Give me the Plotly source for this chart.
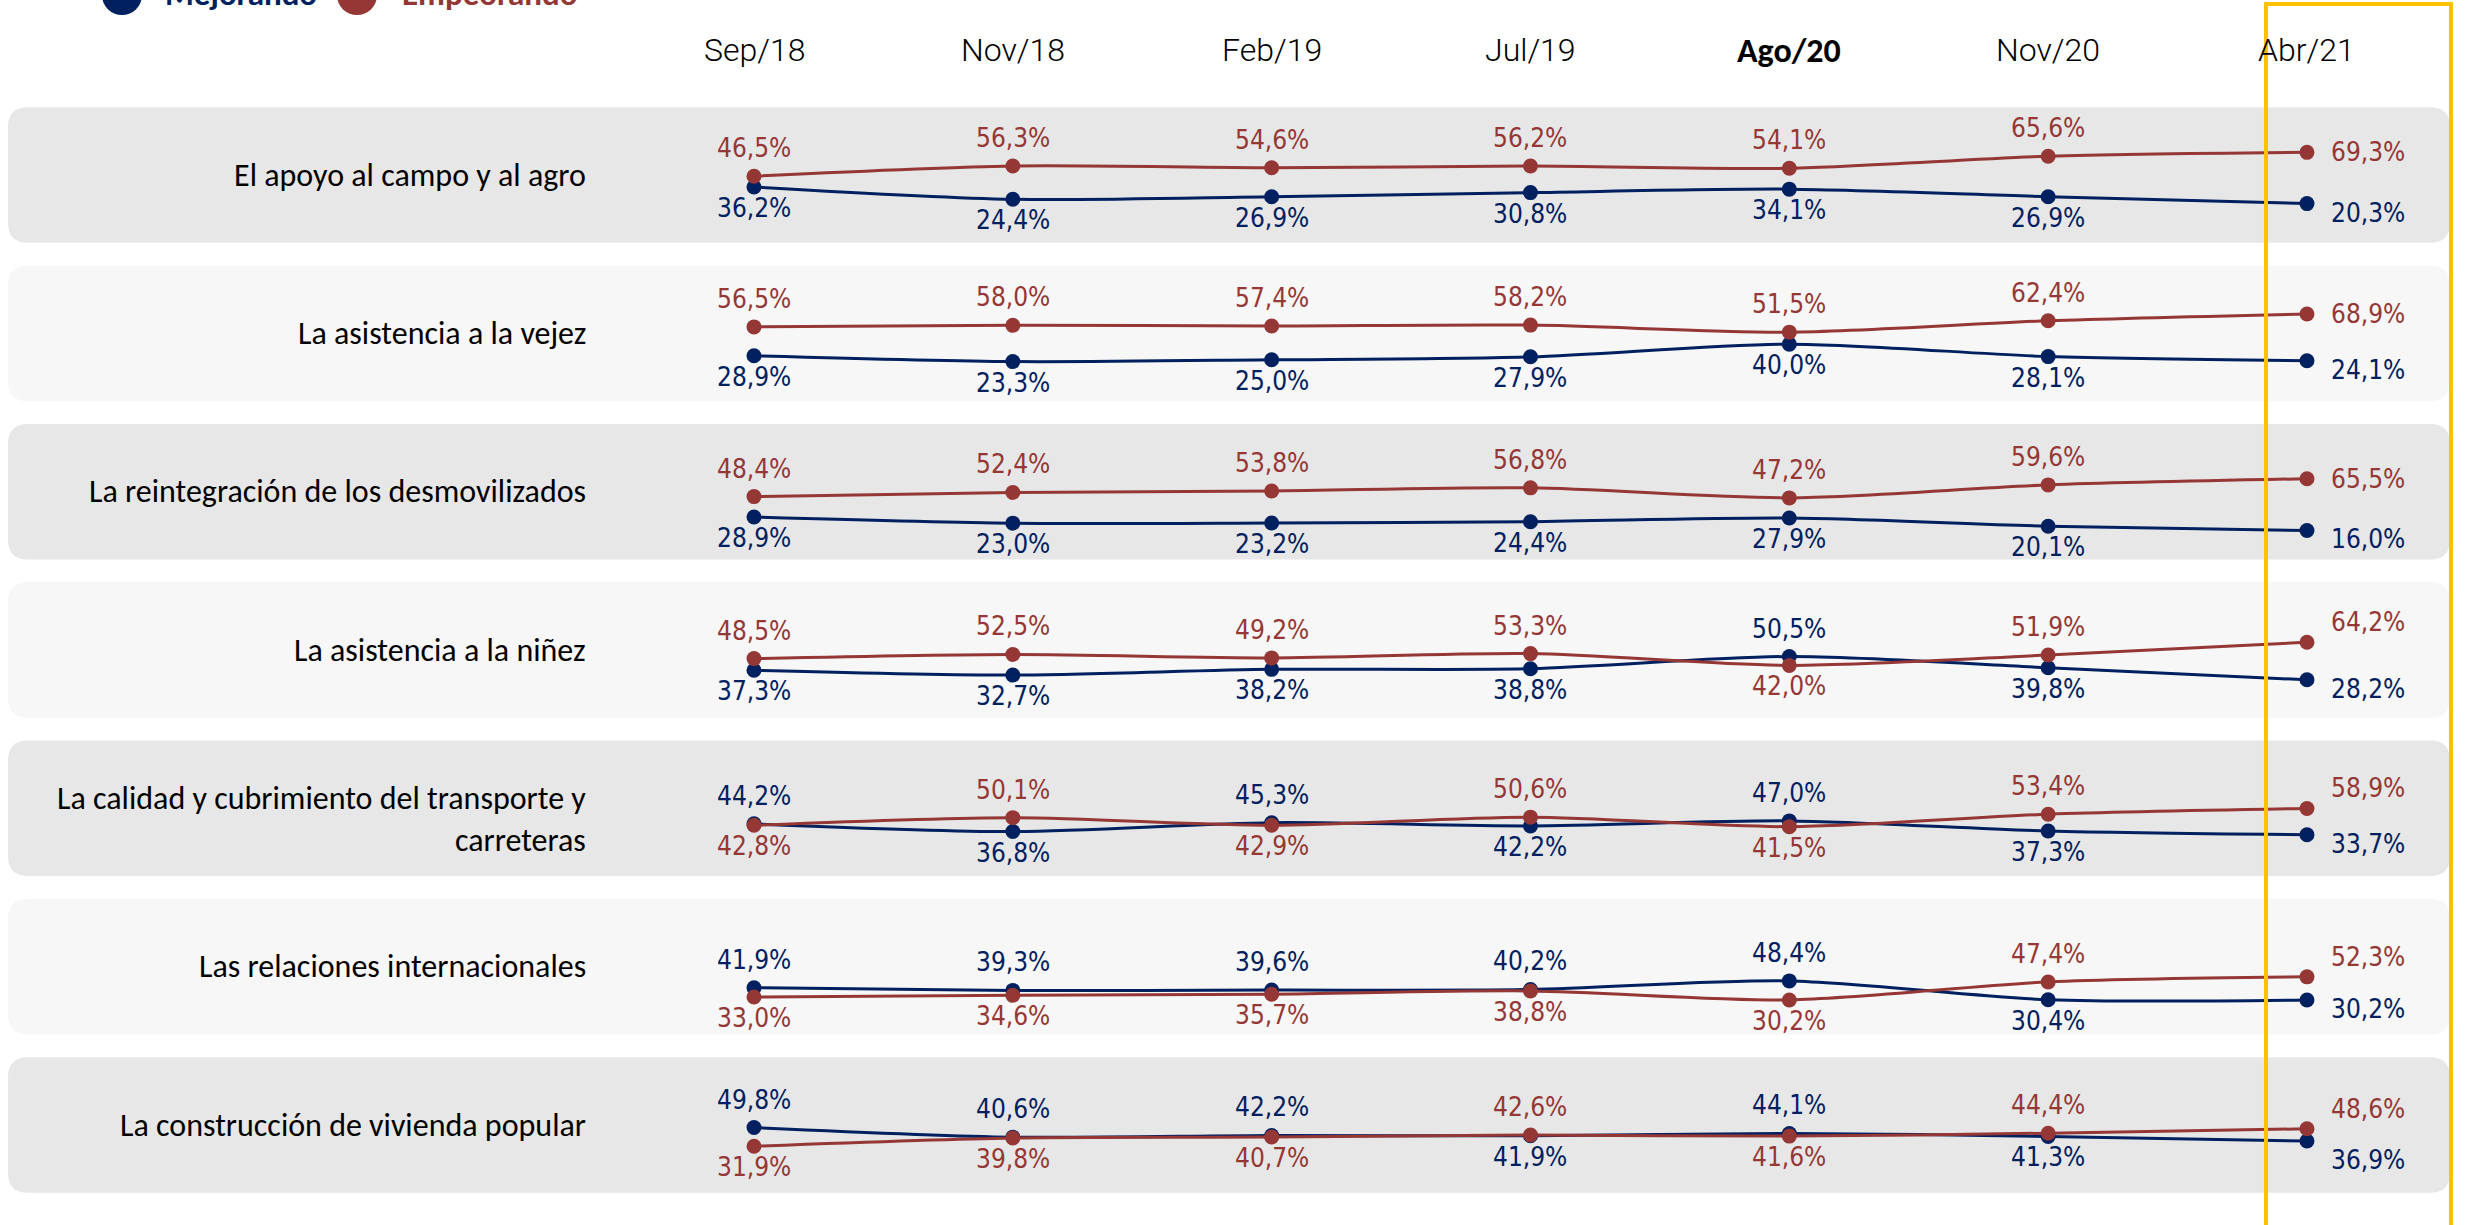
import plotly.graph_objects as go

periods = ['Sep/18', 'Nov/18', 'Feb/19', 'Jul/19', 'Ago/20', 'Nov/20', 'Abr/21']
bold_period = 'Ago/20'

items = [
    'El apoyo al campo y al agro',
    'La asistencia a la vejez',
    'La reintegración de los desmovilizados',
    'La asistencia a la niñez',
    'La calidad y cubrimiento del transporte y<br>carreteras',
    'Las relaciones internacionales',
    'La construcción de vivienda popular',
]

mejorando = [
    [36.2, 24.4, 26.9, 30.8, 34.1, 26.9, 20.3],
    [28.9, 23.3, 25.0, 27.9, 40.0, 28.1, 24.1],
    [28.9, 23.0, 23.2, 24.4, 27.9, 20.1, 16.0],
    [37.3, 32.7, 38.2, 38.8, 50.5, 39.8, 28.2],
    [44.2, 36.8, 45.3, 42.2, 47.0, 37.3, 33.7],
    [41.9, 39.3, 39.6, 40.2, 48.4, 30.4, 30.2],
    [49.8, 40.6, 42.2, 41.9, 44.1, 41.3, 36.9],
]

empeorando = [
    [46.5, 56.3, 54.6, 56.2, 54.1, 65.6, 69.3],
    [56.5, 58.0, 57.4, 58.2, 51.5, 62.4, 68.9],
    [48.4, 52.4, 53.8, 56.8, 47.2, 59.6, 65.5],
    [48.5, 52.5, 49.2, 53.3, 42.0, 51.9, 64.2],
    [42.8, 50.1, 42.9, 50.6, 41.5, 53.4, 58.9],
    [33.0, 34.6, 35.7, 38.8, 30.2, 47.4, 52.3],
    [31.9, 39.8, 40.7, 42.6, 41.6, 44.4, 48.6],
]

# centre of each row's value window (where the row sits inside its band)
row_mid = [47.6, 50.3, 53.1, 56.7, 59.0, 62.0, 52.2]

BLUE = '#002060'
RED = '#953735'
W, H = 2468, 1225
X_FIRST, X_STEP = 754, 258.83      # px of first column, px between columns
BAND_TOP, BAND_PITCH, BAND_H = 107.3, 158.33, 135.5
PX_PER_PT = 1.045
LABEL_FONT = 'Liberation Sans Narrow, DejaVu Sans Condensed, sans-serif'
TEXT_FONT = 'Carlito, Lato, sans-serif'
HEAD_FONT = 'Roboto, sans-serif'


def pct(v):
    return f'{v:.1f}%'.replace('.', ',')


def rounded(x0, y0, x1, y1, r):
    # pixel box -> paper path with rounded corners
    px = lambda x: x / W
    py = lambda y: 1 - y / H
    return (f'M {px(x0 + r)} {py(y0)} L {px(x1 - r)} {py(y0)} '
            f'Q {px(x1)} {py(y0)} {px(x1)} {py(y0 + r)} L {px(x1)} {py(y1 - r)} '
            f'Q {px(x1)} {py(y1)} {px(x1 - r)} {py(y1)} L {px(x0 + r)} {py(y1)} '
            f'Q {px(x0)} {py(y1)} {px(x0)} {py(y1 - r)} L {px(x0)} {py(y0 + r)} '
            f'Q {px(x0)} {py(y0)} {px(x0 + r)} {py(y0)} Z')


fig = go.Figure()
shapes = []
annotations = []
xs = list(range(len(periods)))
half = BAND_H / 2 / PX_PER_PT

for i, name in enumerate(items):
    yname = 'y' if i == 0 else f'y{i + 1}'
    top = BAND_TOP + i * BAND_PITCH
    fig.update_layout({
        ('yaxis' if i == 0 else f'yaxis{i + 1}'): dict(
            domain=[1 - (top + BAND_H) / H, 1 - top / H],
            range=[row_mid[i] - half, row_mid[i] + half],
            visible=False, fixedrange=True, anchor='x')
    })

    shapes.append(dict(type='path', xref='paper', yref='paper', layer='below',
                       path=rounded(8, top, 2450, top + BAND_H, 20),
                       fillcolor='#E7E7E7' if i % 2 == 0 else '#F7F7F7',
                       line=dict(width=0)))

    for vals, col in [(mejorando[i], BLUE), (empeorando[i], RED)]:
        fig.add_trace(go.Scatter(
            x=xs, y=vals, yaxis=yname, mode='lines+markers',
            line=dict(color=col, width=3, shape='spline', smoothing=0.8),
            marker=dict(size=15, color=col),
            showlegend=False, hoverinfo='skip'))

    annotations.append(dict(
        text=name, xref='paper', yref=f'{yname} domain', x=588 / W, y=0.5,
        yshift=-11 if '<br>' in name else 0,
        xanchor='right', yanchor='middle', align='right', showarrow=False,
        font=dict(family=TEXT_FONT, size=32, color='#000000')))

    for j in xs:
        b, r = mejorando[i][j], empeorando[i][j]
        for v, other, col in [(b, r, BLUE), (r, b, RED)]:
            if j < len(xs) - 1:
                ys = 28 if v >= other else -21
                annotations.append(dict(
                    text=pct(v), x=j, y=v, xref='x', yref=yname, yshift=ys,
                    showarrow=False, xanchor='center', yanchor='middle',
                    font=dict(family=LABEL_FONT, size=26, color=col)))
            else:
                if col == BLUE:
                    ys = -9 if r - b >= 20 else -19
                else:
                    ys = 0 if r - b >= 44 else 20
                annotations.append(dict(
                    text=pct(v), x=j, y=v, xref='x', yref=yname, yshift=ys,
                    xshift=22, showarrow=False, xanchor='left', yanchor='middle',
                    font=dict(family=LABEL_FONT, size=26, color=col)))

# column headers
for j, p in enumerate(periods):
    is_bold = p == bold_period
    annotations.append(dict(
        text=f'<b>{p}</b>' if is_bold else p,
        x=j, y=1 - 50 / H, xref='x', yref='paper', showarrow=False,
        xanchor='center', yanchor='middle',
        font=dict(family=TEXT_FONT if is_bold else HEAD_FONT,
                  size=34 if is_bold else 32,
                  color='#000000', weight=700 if is_bold else 300)))

# legend (cut off at the top of the slide)
for cx, col, label, tx in [(122, BLUE, 'Mejorando', 163), (357, RED, 'Empeorando', 400)]:
    shapes.append(dict(type='circle', xref='paper', yref='paper',
                       x0=(cx - 20) / W, x1=(cx + 20) / W,
                       y0=1 - 15 / H, y1=1 + 25 / H,
                       fillcolor=col, line=dict(width=0)))
    annotations.append(dict(
        text=f'<b>{label}</b>', xref='paper', yref='paper', x=tx / W, y=1 + 6 / H,
        xanchor='left', yanchor='middle', showarrow=False,
        font=dict(family=TEXT_FONT, size=33, color=col)))

# highlight of the latest wave
last = len(periods) - 1
shapes.append(dict(type='rect', xref='x', yref='paper', layer='above',
                   x0=last - 41 / X_STEP, x1=last + 144 / X_STEP,
                   y0=-0.05, y1=1 - 4 / H,
                   line=dict(color='#FFC000', width=4), fillcolor='rgba(0,0,0,0)'))

fig.update_layout(
    width=W, height=H,
    margin=dict(l=0, r=0, t=0, b=0),
    paper_bgcolor='white', plot_bgcolor='rgba(0,0,0,0)',
    xaxis=dict(range=[-X_FIRST / X_STEP, last + (W - X_FIRST - last * X_STEP) / X_STEP],
               domain=[0, 1], visible=False, fixedrange=True, anchor='y'),
    shapes=shapes, annotations=annotations,
    showlegend=False,
)

fig.write_html('out.html', config={'displayModeBar': False},
               post_script="document.body.style.margin='0';")
